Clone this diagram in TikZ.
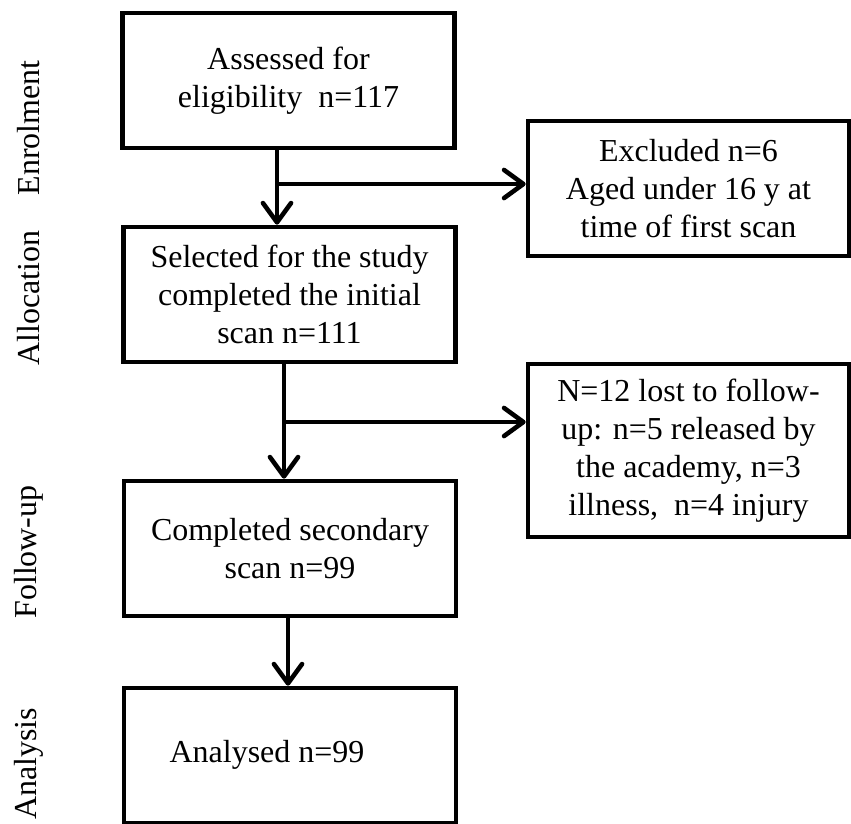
\documentclass[tikz,border=0pt]{standalone}
\usepackage{fontspec}
\setmainfont{Liberation Serif}
\usetikzlibrary{arrows.meta}

\begin{document}
\begin{tikzpicture} [x=.02cm, y=-.02cm,
  txt/.style={font=\fontsize{18.2}{21.6}\selectfont, align=center, inner sep=0pt},
  flowbox/.style={txt, draw, line width=2.7pt, minimum width=6.64cm, minimum height=2.7cm},
  sidebox/.style={flowbox, minimum width=6.42cm},
  stage/.style={font=\fontsize{18.2}{21.6}\selectfont, rotate=90, inner sep=0pt},
  flow/.style={line width=2.6pt, -{Straight Barb[length=11pt, width=16pt, round]}}]
\useasboundingbox (0,0) rectangle (851,823);

\node[stage] (enrol) at (29,128) {Enrolment};
\node[stage] (alloc) at (29,298) {Allocation};
\node[stage] (follow) at (29,552) {Follow-up};
\node[stage] (analys) at (29,764) {Analysis};

\node[flowbox] (assessed) at (288.5,80.5) {Assessed for\\eligibility\ \ n=117};
\node[flowbox] (selected) at (289.5,294.5) {Selected for the study\\completed the initial\\scan n=111};
\node[flowbox] (completed) at (290,548.5) {Completed secondary\\scan n=99};
\node[flowbox] (analysed) at (290,755.5) {};
\node[txt] (analysedtext) at (267,755) {Analysed n=99};

\node[sidebox] (excluded) at (688.5,188.5) {Excluded n=6\\Aged under 16 y at\\time of first scan};
\node[sidebox, minimum height=3.46cm] (lost) at (688.5,450.5) {N=12 lost to follow-\\up: n=5 released by\\the academy, n=3\\illness,\ \ n=4 injury};

\coordinate (j1) at (277,184);
\coordinate (j2) at (284,422);
\coordinate (j3) at (288,650);

\draw[flow] (j1 |- assessed.south) -- (j1 |- selected.north);
\draw[flow] (j1) -- (j1 -| excluded.west);
\draw[flow] (j2 |- selected.south) -- (j2 |- completed.north);
\draw[flow] (j2) -- (j2 -| lost.west);
\draw[flow] (j3 |- completed.south) -- (j3 |- analysed.north);

\end{tikzpicture}
\end{document}
